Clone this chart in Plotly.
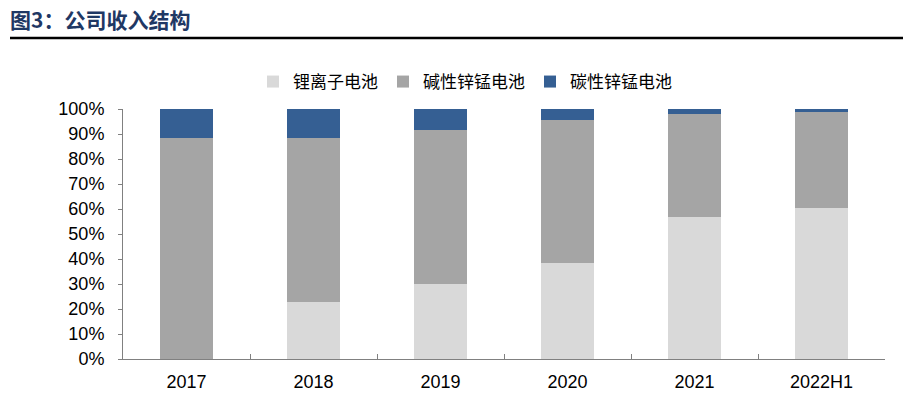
import plotly.graph_objects as go

# données
annees = ["2017", "2018", "2019", "2020", "2021", "2022H1"]
lithium = [0.0, 22.8, 30.0, 38.3, 56.9, 60.4]
alcaline = [88.5, 65.7, 61.5, 57.4, 41.2, 38.4]
carbone = [11.5, 11.5, 8.5, 4.3, 1.9, 1.2]

noms = ["锂离子电池", "碱性锌锰电池", "碳性锌锰电池"]
couleurs = ["#D9D9D9", "#A5A5A5", "#355F93"]

fig = go.Figure()
for nom, vals, c in zip(noms, [lithium, alcaline, carbone], couleurs):
    fig.add_trace(go.Bar(x=annees, y=vals, name=nom, marker_color=c,
                         marker_line_width=0))

# la page a une marge de 8 px autour de la figure
off = 8
W, H = 911 - off, 401 - off
ml, mt = 123 - off, 109 - off
mr = W - (885 - off)
mb = H - (359 - off)
pw, ph = W - ml - mr, H - mt - mb

fig.update_layout(
    width=W, height=H,
    barmode="stack", bargap=0.59,
    plot_bgcolor="white", paper_bgcolor="white",
    margin=dict(l=ml, r=mr, t=mt, b=mb, autoexpand=False),
    font=dict(family="Liberation Sans, Arial", size=18, color="black"),
    showlegend=True,
    legend=dict(orientation="h", traceorder="normal",
                x=(465 - 123) / pw, xanchor="center",
                y=1 + 27 / ph, yanchor="middle",
                font=dict(family="Noto Sans CJK SC", size=17),
                tracegroupgap=0),
    title=dict(text="<b>图3：公司收入结构</b>", xref="container", yref="container",
               x=(10 - off) / W, xanchor="left", y=1 - (21 - off) / H,
               yanchor="middle", pad=dict(l=0, r=0, t=0, b=0),
               font=dict(family="Noto Sans CJK SC", size=21, color="#1F3864")),
    shapes=[dict(type="line", xref="paper", yref="paper",
                 x0=(10 - 123) / pw, x1=(911 - 123) / pw,
                 y0=1 + (109 - 38) / ph, y1=1 + (109 - 38) / ph,
                 line=dict(color="black", width=2.5))],
)
fig.update_xaxes(showline=True, linecolor="#808080", linewidth=1,
                 ticks="inside", tickson="boundaries", ticklen=5,
                 tickcolor="#808080", showgrid=False, ticklabelstandoff=6)
fig.update_yaxes(range=[0, 100], dtick=10, ticksuffix="%", showline=True,
                 linecolor="#808080", linewidth=1, ticks="outside", ticklen=4,
                 tickcolor="#808080", showgrid=False, zeroline=False,
                 ticklabelstandoff=10)

fig.write_html("out.html")
